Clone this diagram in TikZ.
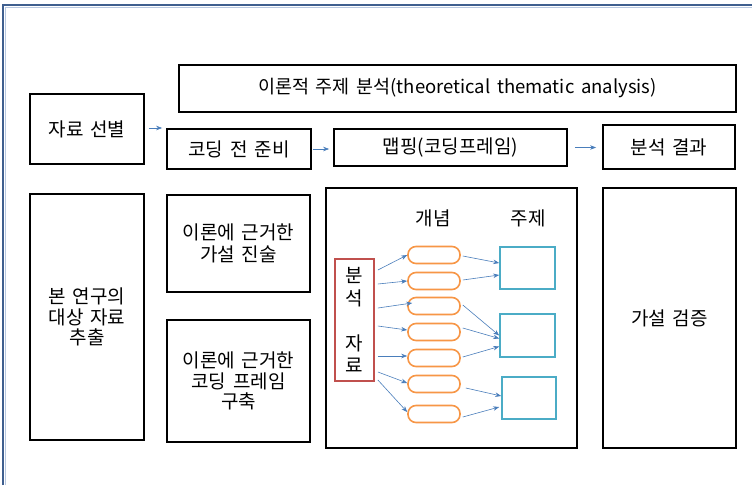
\documentclass[tikz,border=0pt]{standalone}
\usepackage{fontspec}
\setmainfont[WordSpace=1.6]{Noto Sans CJK KR}
\usetikzlibrary{arrows.meta,calc}
\definecolor{framec}{HTML}{3F5F8F}
\definecolor{framel}{HTML}{B8C8E0}
\definecolor{arrc}{HTML}{4A7EBB}
\definecolor{redc}{HTML}{C0504D}
\definecolor{orc}{HTML}{F79646}
\definecolor{cyc}{HTML}{4BACC6}
\tikzset{
  bbox/.style={draw=black, line width=1.8pt, inner sep=0pt, align=center,
    font=\fontsize{19}{21}\selectfont},
  capsule/.style={draw=orc, line width=1.6pt, rounded corners=8pt,
    minimum width=52pt, minimum height=17pt, inner sep=0pt},
  cybox/.style={draw=cyc, line width=1.6pt, inner sep=0pt},
  arr/.style={draw=arrc, line width=0.6pt, -{Stealth[length=6pt,width=4.5pt]}},
  lbl/.style={font=\fontsize{19}{21}\selectfont, inner sep=0pt}
}
\begin{document}
\begin{tikzpicture}[x=1pt,y=-1pt]
\useasboundingbox (0,0) rectangle (752,485);
\fill[white] (0,0) rectangle (752,485);
% outer frame
\draw[framel, line width=1pt] (5.5,485) -- (5.5,7.5) -- (752,7.5);
\draw[framec, line width=2.5pt] (3,485) -- (3,5) -- (752,5);
% top row
\node[bbox, minimum width=557pt, minimum height=47pt, font=\fontsize{18.5}{21}\selectfont] (title) at (457.5,88.5) {이론적 주제 분석(theoretical thematic analysis)};
\node[bbox, minimum width=114pt, minimum height=70pt] (jaryo) at (87,129) {자료 선별};
\node[bbox, minimum width=144pt, minimum height=40pt] (coding) at (239,149) {코딩 전 준비};
\node[bbox, minimum width=233pt, minimum height=37pt] (mapping) at (450.5,147.5) {맵핑(코딩프레임)};
\node[bbox, minimum width=132pt, minimum height=44pt] (result) at (669,147) {분석 결과};
% lower row
\node[bbox, minimum width=114pt, minimum height=246pt, font=\fontsize{19}{20.5}\selectfont] (bon) at (87,317) {본 연구의\\대상 자료\\추출};
\node[bbox, minimum width=143pt, minimum height=97pt, font=\fontsize{19}{22}\selectfont] (hyp) at (238.5,243.5) {이론에 근거한\\가설 진술};
\node[bbox, minimum width=143pt, minimum height=122pt, font=\fontsize{19}{20.5}\selectfont] (frame) at (238.5,381) {이론에 근거한\\코딩 프레임\\구축};
\node[bbox, minimum width=251pt, minimum height=260pt] (mid) at (451.5,318) {};
\node[bbox, minimum width=133pt, minimum height=260pt] (verify) at (669.5,318) {가설 검증};
% top arrows
\draw[arr, shorten <=4pt, shorten >=4pt] (jaryo.east) ++(0,-1) coordinate (ja) -- (ja -| coding.west);
\draw[arr, shorten <=1pt, shorten >=4pt] (coding.east) -- (coding.east -| mapping.west);
\draw[arr, shorten <=7pt, shorten >=6pt] (mapping.east) -- (mapping.east -| result.west);
% inside mid box
\node[lbl] (gaenyeom) at (433,218) {개념};
\node[lbl] (juje) at (528,218) {주제};
\node[draw=redc, line width=1.8pt, minimum width=39pt, minimum height=122pt, inner sep=0pt, align=center,
  font=\fontsize{19}{22.5}\selectfont] (red) at (354.5,320) {분\\석\\ \\자\\료};
\foreach \i/\y in {1/255,2/281,3/306,4/332,5/358,6/384,7/414}
  \node[capsule] (c\i) at (434,\y) {};
\node[cybox, minimum width=55pt, minimum height=42pt] (b1) at (527.5,268) {};
\node[cybox, minimum width=55pt, minimum height=43pt] (b2) at (527.5,335.5) {};
\node[cybox, minimum width=54pt, minimum height=42pt] (b3) at (529,398) {};
% red -> capsules
\draw[arr] ([xshift=3pt,yshift=50pt]red.east) -- (c1.west);
\draw[arr] ([xshift=3pt,yshift=36pt]red.east) -- (c2.west);
\draw[arr] ([xshift=3pt,yshift=12pt]red.east) -- ([xshift=5pt,yshift=3pt]c3.west);
\draw[arr] ([xshift=3pt,yshift=-6pt]red.east) -- ([yshift=2pt]c4.west);
\draw[arr] ([xshift=3pt,yshift=-36pt]red.east) -- ([yshift=2pt]c5.west);
\draw[arr] ([xshift=3pt,yshift=-52pt]red.east) -- ([yshift=1pt]c6.west);
\draw[arr] ([xshift=3pt,yshift=-60pt]red.east) -- ([yshift=2pt]c7.west);
% capsules -> theme boxes
\draw[arr] ([xshift=2pt,yshift=-1pt]c1.east) -- ([yshift=5pt]b1.west);
\draw[arr] ([xshift=2pt,yshift=1pt]c2.east) -- ([yshift=-7pt]b1.west);
\draw[arr] ([xshift=2pt,yshift=1pt]c3.east) -- ([yshift=0pt]b2.west);
\draw[arr] ([xshift=2pt,yshift=4pt]c4.east) -- ([yshift=-3pt]b2.west);
\draw[arr] ([xshift=2pt,yshift=1pt]c5.east) -- ([yshift=-11pt]b2.west);
\draw[arr] ([xshift=5pt,yshift=-4pt]c6.east) -- ([yshift=2pt]b3.west);
\draw[arr] ([xshift=2pt,yshift=-3pt]c7.east) -- ([xshift=-2pt,yshift=-9pt]b3.west);
\end{tikzpicture}
\end{document}
